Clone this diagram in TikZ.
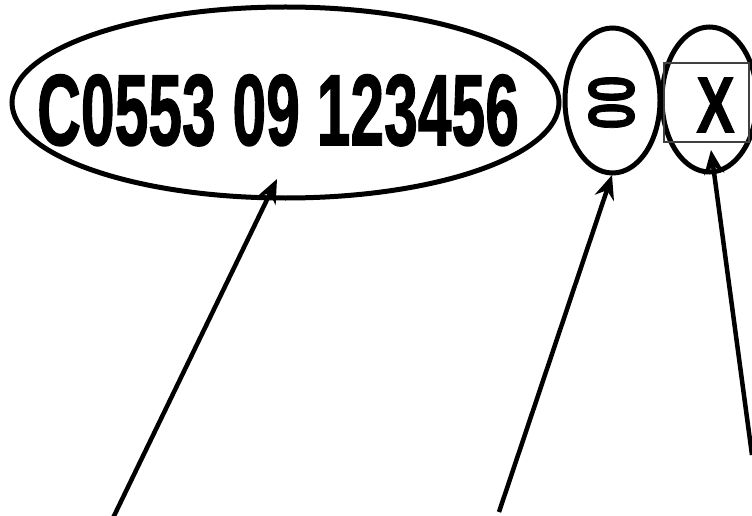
\documentclass[tikz,border=0pt]{standalone}
\usepackage{fontspec}
\setmainfont{Liberation Sans}
\newfontfamily\heavy{Liberation Sans Bold}[FakeBold=1.5]
\usepackage{graphicx}
\usetikzlibrary{arrows.meta,shapes.geometric}
\begin{document}
\begin{tikzpicture}[x=1pt,y=-1pt,
  oval/.style={draw=black,line width=5pt,ellipse,inner sep=0pt},
  pointer/.style={draw=black,line width=4.5pt,-{Stealth[length=24pt,width=20pt,inset=8pt]}},
  digits/.style={inner sep=0pt,text=black}]
\useasboundingbox (0,0) rectangle (752,516);
\node[oval,minimum width=547pt,minimum height=191pt] (e1) at (285.5,102.5) {};
\node[oval,minimum width=95pt,minimum height=145pt] (e2) at (612.5,100.5) {};
\node[oval,minimum width=95pt,minimum height=145pt] (e3) at (709.5,99.5) {};
\node[draw=black!75,line width=2pt,minimum width=85pt,minimum height=79pt,inner sep=0pt] (r) at (706.5,102.5) {};
\node[digits,anchor=base west] (t1) at (37,145) {\fontsize{101}{101}\selectfont\heavy\scalebox{0.6}[1]{C0553 09 123456}};
\node[digits,rotate=90] (t2) at (611.5,102.5) {\fontsize{65}{65}\selectfont\heavy\scalebox{0.75}[1]{00}};
\node[digits] (t3) at (715.5,105) {\fontsize{79}{79}\selectfont\heavy\scalebox{0.72}[1]{X}};
\coordinate (s1) at (113,518);
\coordinate (h1) at (277,179);
\coordinate (s2) at (499,512);
\coordinate (h2) at (612,175);
\coordinate (s3) at (752,455);
\coordinate (h3) at (711,150);
\draw[pointer] (s1) -- (h1);
\draw[pointer] (s2) -- (h2);
\draw[pointer] (s3) -- (h3);
\end{tikzpicture}
\end{document}
